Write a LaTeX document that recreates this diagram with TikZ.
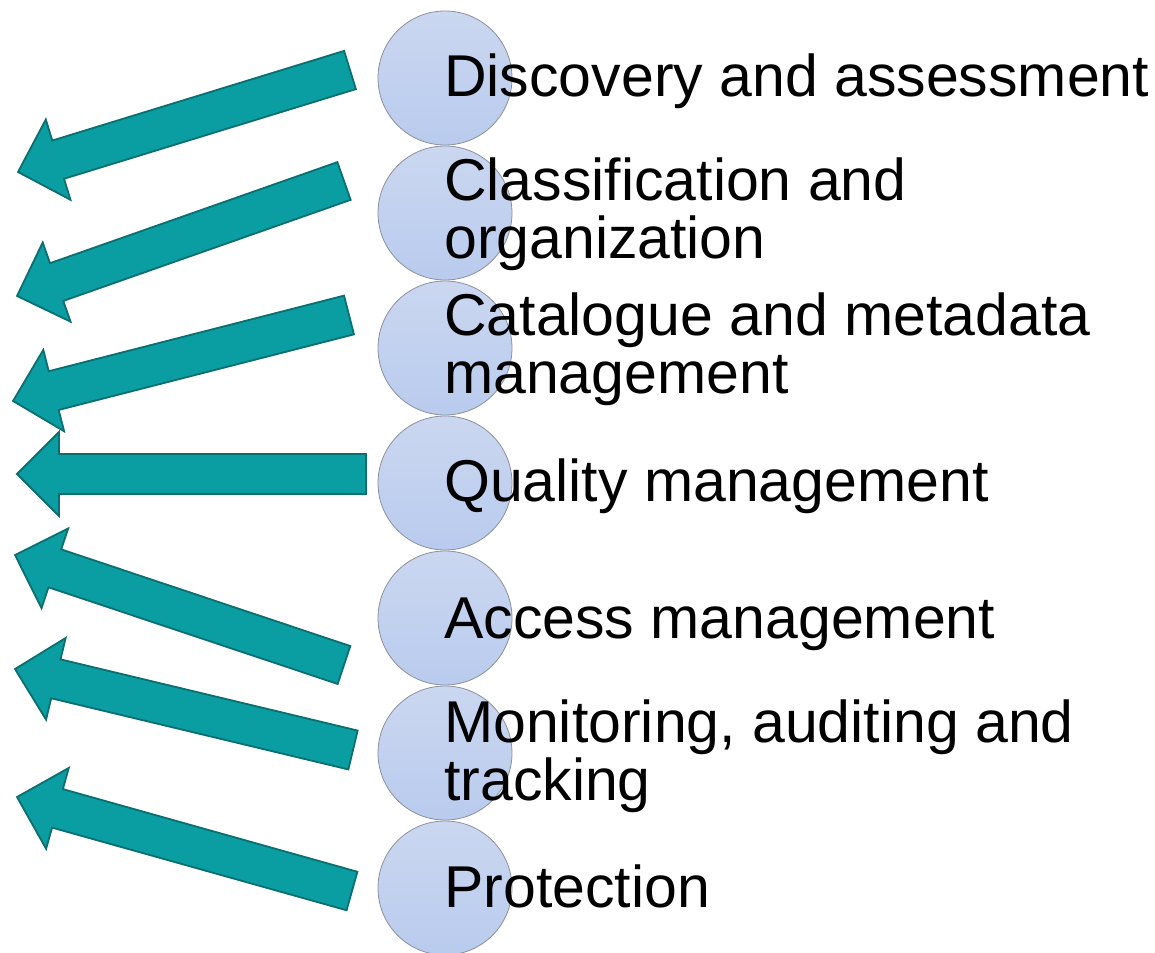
\documentclass[tikz,border=0pt]{standalone}
\usepackage{fontspec}
\setmainfont{Liberation Sans}
\usepackage{tikz}
\usetikzlibrary{calc}
\definecolor{tealfill}{HTML}{0A9EA2}
\definecolor{tealline}{HTML}{0B6E70}
\definecolor{bubbletop}{HTML}{CBD7F0}
\definecolor{bubblebot}{HTML}{B9CBEE}
\definecolor{bubbleline}{HTML}{8A8F9A}

\begin{document}
\begin{tikzpicture}[x=1pt, y=-1pt,
    bubble/.style={shape=circle, draw=bubbleline, line width=0.8pt, minimum size=134pt, inner sep=0pt, top color=bubbletop, bottom color=bubblebot},
    itemtext/.style={anchor=base west, align=left, inner sep=0pt, font=\fontsize{59}{58}\selectfont},
    blockarrow/.style={fill=tealfill, draw=tealline, line width=1.8pt, line join=miter}]
    \useasboundingbox (0,0) rectangle (1155,952);

    \node[bubble] (C1) at (445,78) {};
    \node[bubble] (C2) at (445,213) {};
    \node[bubble] (C3) at (445,348) {};
    \node[bubble] (C4) at (445,483) {};
    \node[bubble] (C5) at (445,618) {};
    \node[bubble] (C6) at (445,753) {};
    \node[bubble] (C7) at (445,888) {};

    % base of a two-line text is its last line
    \node[itemtext] (L1) at (444,97) {Discovery and assessment};
    \node[itemtext] (L2) at (444,258) {Classification and\\organization};
    \node[itemtext] (L3) at (444,393) {Catalogue and metadata\\management};
    \node[itemtext] (L4) at (444,501) {Quality management};
    \node[itemtext] (L5) at (444,638) {Access management};
    \node[itemtext] (L6) at (444,800) {Monitoring, auditing and\\tracking};
    \node[itemtext] (L7) at (444,907) {Protection};

    % tails next to the bubbles, tips at the left border
    \coordinate (T1) at (350,70);  \coordinate (P1) at (18,172);
    \coordinate (T2) at (344,181); \coordinate (P2) at (17,296);
    \coordinate (T3) at (349,315); \coordinate (P3) at (13,401);
    \coordinate (T4) at (366,474); \coordinate (P4) at (17,474);
    \coordinate (T5) at (344,665); \coordinate (P5) at (15,555);
    \coordinate (T6) at (353,750); \coordinate (P6) at (15,669);
    \coordinate (T7) at (352,891); \coordinate (P7) at (17,797);

    \path[blockarrow] let \p1=($(P1)-(T1)$), \n1={atan2(\y1,\x1)}, \n2={veclen(\x1,\y1)} in [shift={(T1)}, rotate=\n1] (0,-20) -- (\n2-42,-20) -- (\n2-42,-42) -- (\n2,0) -- (\n2-42,42) -- (\n2-42,20) -- (0,20) -- cycle;
    \path[blockarrow] let \p1=($(P2)-(T2)$), \n1={atan2(\y1,\x1)}, \n2={veclen(\x1,\y1)} in [shift={(T2)}, rotate=\n1] (0,-20) -- (\n2-42,-20) -- (\n2-42,-42) -- (\n2,0) -- (\n2-42,42) -- (\n2-42,20) -- (0,20) -- cycle;
    \path[blockarrow] let \p1=($(P3)-(T3)$), \n1={atan2(\y1,\x1)}, \n2={veclen(\x1,\y1)} in [shift={(T3)}, rotate=\n1] (0,-20) -- (\n2-42,-20) -- (\n2-42,-42) -- (\n2,0) -- (\n2-42,42) -- (\n2-42,20) -- (0,20) -- cycle;
    \path[blockarrow] let \p1=($(P4)-(T4)$), \n1={atan2(\y1,\x1)}, \n2={veclen(\x1,\y1)} in [shift={(T4)}, rotate=\n1] (0,-20) -- (\n2-42,-20) -- (\n2-42,-42) -- (\n2,0) -- (\n2-42,42) -- (\n2-42,20) -- (0,20) -- cycle;
    \path[blockarrow] let \p1=($(P5)-(T5)$), \n1={atan2(\y1,\x1)}, \n2={veclen(\x1,\y1)} in [shift={(T5)}, rotate=\n1] (0,-20) -- (\n2-42,-20) -- (\n2-42,-42) -- (\n2,0) -- (\n2-42,42) -- (\n2-42,20) -- (0,20) -- cycle;
    \path[blockarrow] let \p1=($(P6)-(T6)$), \n1={atan2(\y1,\x1)}, \n2={veclen(\x1,\y1)} in [shift={(T6)}, rotate=\n1] (0,-20) -- (\n2-42,-20) -- (\n2-42,-42) -- (\n2,0) -- (\n2-42,42) -- (\n2-42,20) -- (0,20) -- cycle;
    \path[blockarrow] let \p1=($(P7)-(T7)$), \n1={atan2(\y1,\x1)}, \n2={veclen(\x1,\y1)} in [shift={(T7)}, rotate=\n1] (0,-20) -- (\n2-42,-20) -- (\n2-42,-42) -- (\n2,0) -- (\n2-42,42) -- (\n2-42,20) -- (0,20) -- cycle;
\end{tikzpicture}
\end{document}
